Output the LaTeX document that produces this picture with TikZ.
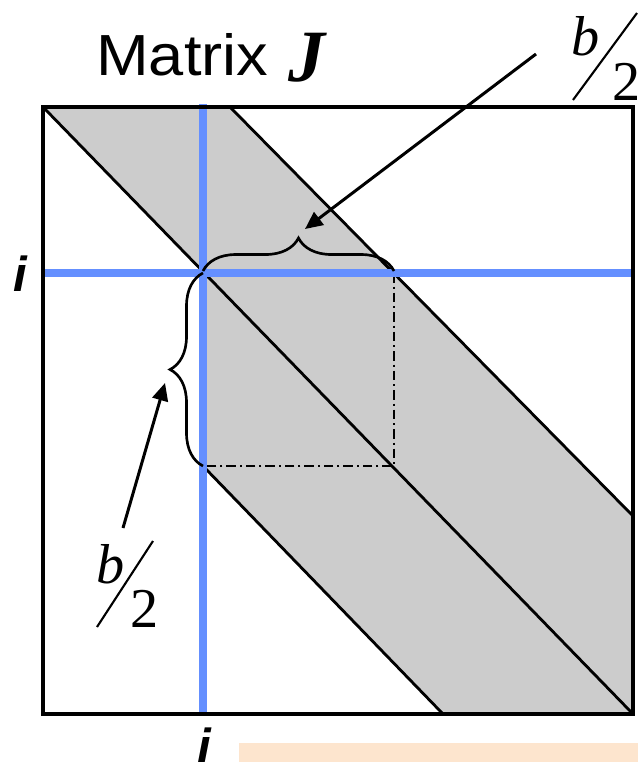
\documentclass[tikz,border=0pt]{standalone}
\usepackage{fontspec}
\setmainfont{Liberation Serif}
\setsansfont{Liberation Sans}
\usetikzlibrary{arrows.meta,decorations.pathreplacing,positioning}
\definecolor{rowblue}{RGB}{100,143,255}
\definecolor{bandgray}{RGB}{204,204,204}
\definecolor{peach}{RGB}{253,229,206}
\tikzstyle{band}=[fill=bandgray]
\tikzstyle{edge}=[line width=1.6pt]
\tikzstyle{frame}=[line width=1.8pt]
\tikzstyle{idx}=[rowblue,line width=5pt]
\tikzstyle{box}=[line width=1.2pt,dash pattern=on 5.5pt off 2.2pt on 1.2pt off 2.2pt]
\tikzstyle{brc}=[decorate,decoration={brace,amplitude=0.66cm},line width=1.5pt]
\tikzstyle{arr}=[-{Triangle[length=10pt,width=9pt]},line width=1.7pt]
\tikzstyle{lbl}=[inner sep=0pt,anchor=base west,font=\fontsize{32}{38}\selectfont]
\tikzstyle{slash}=[line width=1.2pt]
\tikzstyle{idxlbl}=[inner sep=0pt,anchor=base,font=\fontsize{28}{34}\selectfont\sffamily\bfseries\itshape]

\begin{document}
\begin{tikzpicture}[x=0.02cm,y=-0.02cm]
\useasboundingbox (0,0) rectangle (638,762);
\coordinate (nw) at (43,107);
\coordinate (se) at (633,714);
\coordinate (ii) at (203,273);
\coordinate (corner) at (394,273);
\coordinate (low) at (203,466);
\coordinate (lowcorner) at (394,466);
\fill[band] (nw) -- (230,107) -- (633,516) -- (se) -- (443,714) -- (low) -- (ii) -- cycle;
\draw[edge] (nw) -- (se);
\draw[edge] (230,107) -- (633,516);
\draw[edge] (low) -- (443,714);
\draw[box] (corner) -- (lowcorner) -- (low);
\draw[idx] (203,104) -- (203,712);
\draw[idx] (43,273) -- (633,273);
\draw[frame] (nw) rectangle (se);
\draw[brc] (203,271) -- (394,271);
\draw[brc] (low) -- (ii);
\fill[peach] (239,743) rectangle (638,762);

\node[inner sep=0pt,anchor=base west] (title) at (96,75)
  {\fontsize{33}{40}\selectfont\sffamily\scalebox{1.09}[1]{Matrix}};
\node[inner sep=0pt,anchor=base west] (jlbl) at (288,81)
  {\fontsize{42}{48}\selectfont\rmfamily\bfseries\itshape J};
\node[idxlbl] (rowi) at (20,291) {i};
\node[idxlbl] (coli) at (204,763) {i};

\node[lbl] (topb) at (571,55) {\itshape b};
\node[lbl] (toptwo) at (612,100) {2};
\draw[slash] (toptwo.base west) ++(-39,0) -- ++(64,-87);
\node[lbl] (botb) at (96,583) {\itshape b};
\node[lbl] (bottwo) at (130,627) {2};
\draw[slash] (bottwo.base west) ++(-33,0) -- ++(56,-86);

\coordinate (topfoot) at (536,54);
\coordinate (toptip) at (305,229);
\coordinate (botfoot) at (123,528);
\coordinate (bottip) at (165,383);
\draw[arr] (topfoot) -- (toptip);
\draw[arr] (botfoot) -- (bottip);
\end{tikzpicture}
\end{document}
